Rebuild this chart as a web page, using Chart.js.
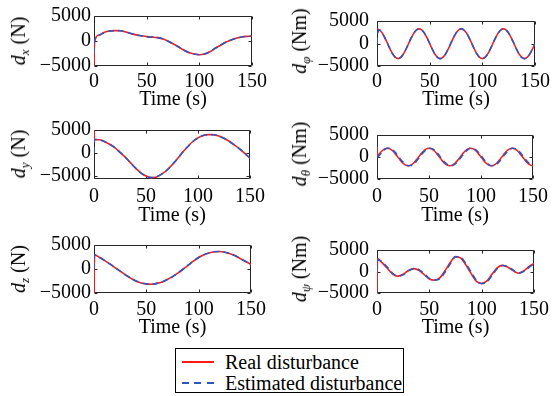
<!DOCTYPE html>
<html>
<head>
<meta charset="utf-8">
<script src="https://cdn.jsdelivr.net/npm/chart.js@4.4.0/dist/chart.umd.min.js"></script>
<style>
html,body{margin:0;padding:0;background:#fff;}
body{width:554px;height:396px;position:relative;overflow:hidden;font-family:"Liberation Serif","Times New Roman",Tinos,"DejaVu Serif","Noto Serif",serif;color:#000;font-weight:normal;}
canvas{position:absolute;}
.yt{position:absolute;transform:translate(-50%,-50%) rotate(-90deg);white-space:nowrap;font-size:20px;line-height:20px;font-weight:normal;}
.yt i{font-style:italic;}
.yt sub{font-size:13px;font-style:italic;vertical-align:-4px;line-height:0;}
#legend{position:absolute;left:175px;top:348px;width:229px;height:45px;border:1px solid #000;box-sizing:border-box;background:#fff;}
.ln{position:absolute;left:6px;width:32px;height:2px;}
.ln.red{background:#ff1a1a;}
.ln.blue{background:repeating-linear-gradient(90deg,#2c56c4 0 7px,transparent 7px 12.5px);}
.lt{position:absolute;left:49px;font-size:20px;line-height:20px;white-space:nowrap;font-weight:normal;}
</style>
</head>
<body>
<script>
// ---------------- data ----------------
const timeA = [0,0.5,5,10,15,20,25,30,35,40,45,50,55,60,65,70,75,80,85,90,95,100,105,110,115,120,125,130,135,140,145,150];
const timeB = [0,0.5,2.5,5,7.5,10,12.5,15,17.5,20,22.5,25,27.5,30,32.5,35,37.5,40,42.5,45,47.5,50,52.5,55,57.5,60,62.5,65,67.5,70,72.5,75,77.5,80,82.5,85,87.5,90,92.5,95,97.5,100,102.5,105,107.5,110,112.5,115,117.5,120,122.5,125,127.5,130,132.5,135,137.5,140,142.5,145,147.5,150];
const xTicks = [0,50,100,150];
const yTicks = [-5000,0,5000];
const seriesNames = ['Real disturbance','Estimated disturbance'];

const dxReal = [-5000,-100,1200,1750,2000,2080,2050,1800,1500,1220,1050,880,780,680,450,0,-550,-1150,-1800,-2300,-2600,-2750,-2600,-2150,-1450,-850,-250,200,550,800,920,960];
const dxEst  = [-2500,-100,1200,1750,2000,2080,2050,1800,1500,1220,1050,880,780,680,450,0,-550,-1150,-1800,-2300,-2600,-2750,-2600,-2150,-1450,-850,-250,200,550,800,920,960];

const dyReal = [5000,2950,2880,2500,1900,1150,150,-900,-2100,-3300,-4300,-5000,-5350,-5200,-4600,-3750,-2600,-1300,100,1350,2500,3300,3800,4000,3950,3700,3200,2550,1750,900,-100,-1100];
const dyEst  = [0,2950,2880,2500,1900,1150,150,-900,-2100,-3300,-4300,-5000,-5350,-5200,-4600,-3750,-2600,-1300,100,1350,2500,3300,3800,4000,3950,3700,3200,2550,1750,900,-100,-1100];

const dzReal = [-5000,2950,2450,1800,1070,300,-450,-1220,-1900,-2500,-2900,-3100,-3180,-3000,-2700,-2200,-1580,-850,-50,800,1650,2400,2980,3350,3580,3650,3500,3200,2750,2150,1550,950];
const dzEst  = [0,2950,2450,1800,1070,300,-450,-1220,-1900,-2500,-2900,-3100,-3180,-3000,-2700,-2200,-1580,-850,-50,800,1650,2400,2980,3350,3580,3650,3500,3200,2750,2150,1550,950];

const dphiReal = [3250,3240,
  3000,2300,1245,0,-1280,-2370,-3095,-3350,-3095,-2370,-1280,0,1245,2300,3000,3250,
  3000,2300,1245,0,-1280,-2370,-3095,-3350,-3095,-2370,-1280,0,1245,2300,3000,3250,
  3000,2300,1245,0,-1280,-2370,-3095,-3350,-3095,-2370,-1280,0,1245,2300,3000,3250,
  3000,2300,1245,0,-1280,-2370,-3095,-3350,-3095,-2370,-1280,0];
const dphiEst = [0,2000,
  3000,2300,1245,0,-1280,-2370,-3095,-3350,-3095,-2370,-1280,0,1245,2300,3000,3250,
  3000,2300,1245,0,-1280,-2370,-3095,-3350,-3095,-2370,-1280,0,1245,2300,3000,3250,
  3000,2300,1245,0,-1280,-2370,-3095,-3350,-3095,-2370,-1280,0,1245,2300,3000,3250,
  3000,2300,1245,0,-1280,-2370,-3095,-3350,-3095,-2370,-1280,0];

const dthetaReal = [2300,150,
  765,1414,1850,2000,1850,1414,765,0,-765,-1414,-1850,-2000,-1850,-1414,-765,0,
  765,1414,1850,2000,1850,1414,765,0,-765,-1414,-1850,-2000,-1850,-1414,-765,0,
  765,1414,1850,2000,1850,1414,765,0,-765,-1414,-1850,-2000,-1850,-1414,-765,0,
  765,1414,1850,2000,1850,1414,765,0,-765,-1414,-1850,-2000];
const dthetaEst = [0,0,
  467,1176,1705,1975,1945,1618,1045,313,-467,-1176,-1705,-1975,-1945,-1618,-1045,-313,
  467,1176,1705,1975,1945,1618,1045,313,-467,-1176,-1705,-1975,-1945,-1618,-1045,-313,
  467,1176,1705,1975,1945,1618,1045,313,-467,-1176,-1705,-1975,-1945,-1618,-1045,-313,
  467,1176,1705,1975,1945,1618,1045,313,-467,-1176,-1705,-1975];

const dpsiReal = [-5000,3000,2000,700,-600,-1080,-650,250,680,300,-700,-1750,-2030,-1500,200,2100,3500,3100,1500,-500,-2300,-2800,-2200,-600,900,1420,1000,200,-400,150,1100,1900];
const dpsiEst  = [0,2700,2240,960,-420,-1050,-780,115,670,440,-495,-1615,-2000,-1720,-160,1770,3410,3300,1800,-150,-2070,-2810,-2420,-910,700,1410,1120,340,-395,0,925,1740];

// ---------------- layout / style ----------------
const FONT = '"Liberation Serif","Times New Roman",Tinos,"DejaVu Serif","Noto Serif",serif';
const RED = '#ff1a1a', BLUE = '#2c56c4';
const cols = [
  {left:94, w:159, padL:94, padR:18, tickPad:3, titleX:18},
  {left:377, w:160, padL:95, padR:17, tickPad:8, titleX:299}
];
const rows = [
  {top:15, h:51, padB:46, xPad:4},
  {top:129, h:50, padB:49, xPad:6},
  {top:244, h:49, padB:47, xPad:5}
];
const PADT = 14;

const panels = [
  {time:timeA, real:dxReal, est:dxEst, col:0, row:0, ymin:-5000, ymax:5000, sym:'x', unit:'N'},
  {time:timeB, real:dphiReal, est:dphiEst, col:1, row:0, ymin:-5000, ymax:5000, sym:'\u03c6', unit:'Nm'},
  {time:timeA, real:dyReal, est:dyEst, col:0, row:1, ymin:-5650, ymax:5000, sym:'y', unit:'N'},
  {time:timeB, real:dthetaReal, est:dthetaEst, col:1, row:1, ymin:-5000, ymax:5000, sym:'\u03b8', unit:'Nm'},
  {time:timeA, real:dzReal, est:dzEst, col:0, row:2, ymin:-5000, ymax:5000, sym:'z', unit:'N'},
  {time:timeA, real:dpsiReal, est:dpsiEst, col:1, row:2, ymin:-5000, ymax:5000, sym:'\u03c8', unit:'Nm'}
];

const boxPlugin = {
  id:'matlabBox',
  beforeDatasetsDraw(chart){
    const {ctx, chartArea:a, scales:{x, y}} = chart;
    ctx.save();
    ctx.strokeStyle = '#262626';
    ctx.lineWidth = 1;
    const l = Math.round(a.left)+0.5, r = Math.round(a.right)-0.5, t = Math.round(a.top)+0.5, b = Math.round(a.bottom)-0.5;
    ctx.beginPath();
    ctx.rect(l, t, r-l, b-t);
    const TL = 3;
    x.ticks.forEach(tk => {
      const px = Math.round(x.getPixelForValue(tk.value))+0.5;
      ctx.moveTo(px, b); ctx.lineTo(px, b-TL);
      ctx.moveTo(px, t); ctx.lineTo(px, t+TL);
    });
    y.ticks.forEach(tk => {
      const py = Math.round(y.getPixelForValue(tk.value))+0.5;
      ctx.moveTo(l, py); ctx.lineTo(l+TL, py);
      ctx.moveTo(r, py); ctx.lineTo(r-TL, py);
    });
    ctx.stroke();
    ctx.restore();
  }
};

function fmt(v){ return v < 0 ? '\u2212' + Math.abs(v) : String(v); }

panels.forEach(p => {
  const C = cols[p.col], R = rows[p.row];
  const w = C.padL + C.w + C.padR, h = PADT + R.h + R.padB;
  const cv = document.createElement('canvas');
  cv.width = w; cv.height = h;
  cv.style.left = (C.left - C.padL) + 'px';
  cv.style.top = (R.top - PADT) + 'px';
  cv.style.width = w + 'px'; cv.style.height = h + 'px';
  document.body.appendChild(cv);
  new Chart(cv, {
    type:'line',
    data:{datasets:[
      {label:seriesNames[1], data:p.time.map((t,i)=>({x:t, y:p.est[i]})), borderColor:BLUE, borderWidth:1.6, borderDash:[6,4], pointRadius:0, order:1, cubicInterpolationMode:'monotone', fill:false},
      {label:seriesNames[0], data:p.time.map((t,i)=>({x:t, y:p.real[i]})), borderColor:RED, borderWidth:1.6, pointRadius:0, order:2, cubicInterpolationMode:'monotone', fill:false}
    ]},
    options:{
      responsive:false, animation:false, devicePixelRatio:1,
      layout:{padding:{top:PADT, right:C.padR, left:0, bottom:0}},
      plugins:{legend:{display:false}, tooltip:{enabled:false}},
      scales:{
        x:{type:'linear', min:0, max:150,
           afterBuildTicks:s=>{ s.ticks = xTicks.map(v=>({value:v})); },
           afterFit:s=>{ s.height = R.padB; },
           grid:{display:false, drawTicks:false}, border:{display:false},
           ticks:{padding:R.xPad, color:'#000', font:{family:FONT, size:20, weight:'normal'}, maxRotation:0, autoSkip:false, callback:fmt},
           title:{display:true, text:'Time (s)', color:'#000', font:{family:FONT, size:20, weight:'normal'}, padding:0}},
        y:{type:'linear', min:p.ymin, max:p.ymax,
           afterBuildTicks:s=>{ s.ticks = yTicks.map(v=>({value:v})); },
           afterFit:s=>{ s.width = C.padL; },
           grid:{display:false, drawTicks:false}, border:{display:false},
           ticks:{padding:C.tickPad, color:'#000', font:{family:FONT, size:20, weight:'normal'}, autoSkip:false, callback:fmt}}
      }
    },
    plugins:[boxPlugin]
  });
  const yt = document.createElement('div');
  yt.className = 'yt';
  yt.style.left = C.titleX + 'px';
  yt.style.top = (R.top + R.h/2) + 'px';
  yt.innerHTML = '<i>d</i><sub>' + p.sym + '</sub> (' + p.unit + ')';
  document.body.appendChild(yt);
});

// legend
const lg = document.createElement('div');
lg.id = 'legend';
[['red', 12.5], ['blue', 33.5]].forEach((it, i) => {
  const ln = document.createElement('span');
  ln.className = 'ln ' + it[0];
  ln.style.top = (it[1] - 1) + 'px';
  lg.appendChild(ln);
  const tx = document.createElement('span');
  tx.className = 'lt';
  tx.style.top = (it[1] - 10) + 'px';
  tx.textContent = seriesNames[i];
  lg.appendChild(tx);
});
document.body.appendChild(lg);
</script>
</body>
</html>
